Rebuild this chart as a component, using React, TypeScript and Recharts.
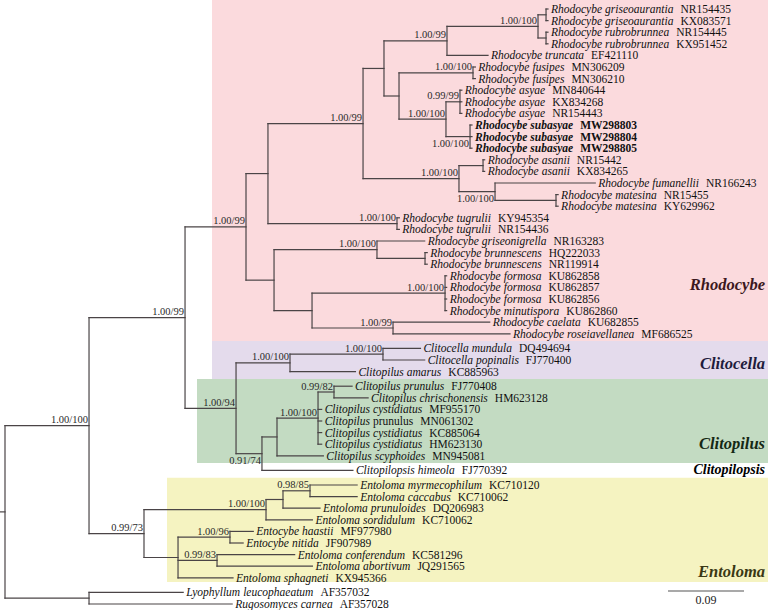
import { ComposedChart, XAxis, YAxis, ReferenceArea, ReferenceLine, Scatter } from "recharts";

// ---- data ----

const tipTaxa = [
  "Rhodocybe griseoaurantia", "Rhodocybe griseoaurantia", "Rhodocybe rubrobrunnea", "Rhodocybe rubrobrunnea",
  "Rhodocybe truncata", "Rhodocybe fusipes", "Rhodocybe fusipes", "Rhodocybe asyae", "Rhodocybe asyae", "Rhodocybe asyae",
  "Rhodocybe subasyae", "Rhodocybe subasyae", "Rhodocybe subasyae", "Rhodocybe asanii", "Rhodocybe asanii",
  "Rhodocybe fumanellii", "Rhodocybe matesina", "Rhodocybe matesina", "Rhodocybe tugrulii", "Rhodocybe tugrulii",
  "Rhodocybe griseonigrella", "Rhodocybe brunnescens", "Rhodocybe brunnescens", "Rhodocybe formosa", "Rhodocybe formosa",
  "Rhodocybe formosa", "Rhodocybe minutispora", "Rhodocybe caelata", "Rhodocybe roseiavellanea",
  "Clitocella mundula", "Clitocella popinalis", "Clitopilus amarus", "Clitopilus prunulus", "Clitopilus chrischonensis",
  "Clitopilus cystidiatus", "Clitopilus prunulus", "Clitopilus cystidiatus", "Clitopilus cystidiatus", "Clitopilus scyphoides",
  "Clitopilopsis himeola", "Entoloma myrmecophilum", "Entoloma caccabus", "Entoloma prunuloides", "Entoloma sordidulum",
  "Entocybe haastii", "Entocybe nitida", "Entoloma conferendum", "Entoloma abortivum", "Entoloma sphagneti",
  "Lyophyllum leucophaeatum", "Rugosomyces carnea",
];

const tipAccessions = [
  "NR154435", "KX083571", "NR154445", "KX951452", "EF421110", "MN306209", "MN306210", "MN840644", "KX834268", "NR154443",
  "MW298803", "MW298804", "MW298805", "NR15442", "KX834265", "NR166243", "NR15455", "KY629962", "KY945354", "NR154436",
  "NR163283", "HQ222033", "NR119914", "KU862858", "KU862857", "KU862856", "KU862860", "KU682855", "MF686525",
  "DQ494694", "FJ770400", "KC885963", "FJ770408", "HM623128", "MF955170", "MN061302", "KC885064", "HM623130", "MN945081",
  "FJ770392", "KC710120", "KC710062", "DQ206983", "KC710062", "MF977980", "JF907989", "KC581296", "JQ291565", "KX945366",
  "AF357032", "AF357028",
];

// root-to-tip distance, substitutions per site
const tipDepths = [
  0.643, 0.643, 0.643, 0.643, 0.572, 0.557, 0.557, 0.541, 0.541, 0.541,
  0.553, 0.553, 0.553, 0.568, 0.568, 0.699, 0.655, 0.655, 0.467, 0.467,
  0.497, 0.5, 0.5, 0.523, 0.523, 0.523, 0.523, 0.574, 0.598,
  0.492, 0.497, 0.415, 0.411, 0.43, 0.375, 0.375, 0.375, 0.375, 0.377,
  0.412, 0.417, 0.417, 0.373, 0.364, 0.294, 0.282, 0.343, 0.364, 0.27,
  0.211, 0.269,
];

type Kid = string | number; // string = clade id, number = tip index
type Clade = { id: string; depth: number; kids: Kid[]; support: string };

// internal nodes: depth from root, children (top to bottom), posterior/bootstrap
const clades: Clade[] = [
  { id: "root", depth: 0, kids: ["A", "out"], support: "" },
  { id: "A", depth: 0.0995, kids: ["B", "ent"], support: "1.00/100" },
  { id: "B", depth: 0.2132, kids: ["rho", "clt"], support: "1.00/99" },
  { id: "rho", depth: 0.2854, kids: ["D", "P"], support: "1.00/99" },
  { id: "D", depth: 0.3114, kids: ["E", "tug"], support: "" },
  { id: "E", depth: 0.424, kids: ["H", "K"], support: "1.00/99" },
  { id: "H", depth: 0.4488, kids: ["F", "I"], support: "" },
  { id: "F", depth: 0.5234, kids: ["G", 4], support: "1.00/99" },
  { id: "G", depth: 0.6312, kids: ["gri", "rub"], support: "1.00/100" },
  { id: "gri", depth: 0.6407, kids: [0, 1], support: "" },
  { id: "rub", depth: 0.6407, kids: [2, 3], support: "" },
  { id: "I", depth: 0.4666, kids: ["fus", "V"], support: "" },
  { id: "fus", depth: 0.5542, kids: [5, 6], support: "1.00/100" },
  { id: "V", depth: 0.5222, kids: ["asy", "sub"], support: "1.00/100" },
  { id: "asy", depth: 0.5388, kids: [7, 8, 9], support: "0.99/99" },
  { id: "sub", depth: 0.5507, kids: [10, 11, 12], support: "1.00/100" },
  { id: "K", depth: 0.5376, kids: ["asa", "S"], support: "1.00/100" },
  { id: "asa", depth: 0.5661, kids: [13, 14], support: "" },
  { id: "S", depth: 0.5803, kids: [15, "mat"], support: "1.00/100" },
  { id: "mat", depth: 0.6525, kids: [16, 17], support: "" },
  { id: "tug", depth: 0.4642, kids: [18, 19], support: "1.00/100" },
  { id: "P", depth: 0.3186, kids: ["J", "M"], support: "" },
  { id: "J", depth: 0.4405, kids: [20, "bru"], support: "1.00/100" },
  { id: "bru", depth: 0.4974, kids: [21, 22], support: "" },
  { id: "M", depth: 0.3636, kids: ["for", "O"], support: "" },
  { id: "for", depth: 0.5211, kids: [23, 24, 25, 26], support: "1.00/100" },
  { id: "O", depth: 0.4595, kids: [27, 28], support: "1.00/99" },
  { id: "clt", depth: 0.2736, kids: ["Z", "AA"], support: "1.00/94" },
  { id: "Z", depth: 0.3375, kids: ["cel", 31], support: "1.00/100" },
  { id: "cel", depth: 0.4476, kids: [29, 30], support: "1.00/100" },
  { id: "AA", depth: 0.3043, kids: ["AC", 39], support: "0.91/74" },
  { id: "AC", depth: 0.3221, kids: ["AD", 38], support: "" },
  { id: "AD", depth: 0.3707, kids: ["AE", 34, 35, 36, 37], support: "1.00/100" },
  { id: "AE", depth: 0.3896, kids: [32, 33], support: "0.99/82" },
  { id: "ent", depth: 0.1646, kids: ["AG", "AH"], support: "0.99/73" },
  { id: "AG", depth: 0.3091, kids: ["AI", 43], support: "1.00/100" },
  { id: "AI", depth: 0.3292, kids: ["AJ", 42], support: "" },
  { id: "AJ", depth: 0.3612, kids: [40, 41], support: "0.98/85" },
  { id: "AH", depth: 0.2049, kids: ["AK", "AL", 48], support: "" },
  { id: "AK", depth: 0.2664, kids: [44, 45], support: "1.00/96" },
  { id: "AL", depth: 0.2511, kids: [46, 47], support: "0.99/83" },
  { id: "out", depth: 0.0995, kids: [49, 50], support: "" },
];

const groupNames = ["Rhodocybe", "Clitocella", "Clitopilus", "Clitopilopsis", "Entoloma"];
const groupFirstTip = [0, 29, 32, 39, 40];
const groupLastTip = [28, 31, 38, 39, 48];

const SCALE_LENGTH = 0.09;

// ---- layout ----

const W = 768;
const H = 610;
const SERIF = "'Liberation Serif', 'Times New Roman', serif";
const UNIT_PER_PX = SCALE_LENGTH / 76;
const X_MIN = -5 * UNIT_PER_PX;
const X_MAX = (W - 5) * UNIT_PER_PX;

const TIP_Y0 = 9;
const TIP_STEP = 11.6;
const GAP_BEFORE = [29, 32, 39, 40, 49];
const GAP_EXTRA = 3;

const NEW_SPECIES = "Rhodocybe subasyae";
const UPRIGHT_EPITHET = new Set([35]);
const SUPPORT_BELOW = new Set(["sub", "S", "AA"]);

const BRANCH = "#4a4446";

const groupStyle: Record<string, { fill?: string; left: number; color: string; size: number; anchor: number; dy: number }> = {
  Rhodocybe: { fill: "#fbdadd", left: 212, color: "#3b1820", size: 16.5, anchor: 24, dy: -3 },
  Clitocella: { fill: "#e4dbec", left: 212, color: "#1e1c3c", size: 16.5, anchor: 30, dy: 3 },
  Clitopilus: { fill: "#c3dbc2", left: 197, color: "#142814", size: 16.5, anchor: 37, dy: -1 },
  Clitopilopsis: { left: 0, color: "#000", size: 14, anchor: 39, dy: -1 },
  Entoloma: { fill: "#f5f3c1", left: 167, color: "#3a3814", size: 16.5, anchor: 48, dy: -7 },
};

const tipY = (i: number) => TIP_Y0 + TIP_STEP * i + GAP_EXTRA * GAP_BEFORE.filter((g) => g <= i).length;
const cladeById = new Map(clades.map((c) => [c.id, c]));
const yOf = (k: Kid): number => {
  if (typeof k === "number") return tipY(k);
  const c = cladeById.get(k)!;
  return (yOf(c.kids[0]) + yOf(c.kids[c.kids.length - 1])) / 2;
};
const depthOf = (k: Kid) => (typeof k === "number" ? tipDepths[k] : cladeById.get(k)!.depth);

type Seg = [{ x: number; y: number }, { x: number; y: number }];
const segments: Seg[] = [];
clades.forEach((c) => {
  const ys = c.kids.map(yOf);
  segments.push([{ x: c.depth, y: ys[0] }, { x: c.depth, y: ys[ys.length - 1] }]);
  c.kids.forEach((k, j) => segments.push([{ x: c.depth, y: ys[j] }, { x: depthOf(k), y: ys[j] }]));
});
segments.push([{ x: X_MIN, y: yOf("root") }, { x: 0, y: yOf("root") }]);

const tipPoints = tipTaxa.map((name, i) => ({
  x: tipDepths[i],
  y: tipY(i),
  name,
  acc: tipAccessions[i],
  upright: UPRIGHT_EPITHET.has(i),
}));

const supportPoints = clades
  .filter((c) => c.support)
  .map((c) => ({ x: c.depth, y: yOf(c.id), support: c.support, below: SUPPORT_BELOW.has(c.id) }));

const boxes = groupNames
  .map((name, g) => {
    const s = groupStyle[name];
    const top = groupFirstTip[g] === 0 ? 0 : (tipY(groupFirstTip[g] - 1) + tipY(groupFirstTip[g])) / 2;
    const last = groupLastTip[g];
    const bottom = last === 48 ? (tipY(48) + tipY(49)) / 2 - 3 : (tipY(last) + tipY(last + 1)) / 2;
    return { name, fill: s.fill, x1: (s.left - 5) * UNIT_PER_PX, y1: top, y2: bottom };
  })
  .filter((b) => b.fill);

const groupPoints = groupNames.map((name) => {
  const s = groupStyle[name];
  return { x: 760 * UNIT_PER_PX, y: tipY(s.anchor) + s.dy, name, color: s.color, size: s.size };
});

const SCALE_X0 = 663 * UNIT_PER_PX;
const SCALE_Y = 591;
const scalePoints = [{ x: SCALE_X0 + SCALE_LENGTH / 2, y: SCALE_Y, label: String(SCALE_LENGTH) }];

const TipLabel = (p: any) => {
  const { cx, cy, payload } = p;
  const bold = payload.name === NEW_SPECIES;
  const [genus, ...rest] = payload.name.split(" ");
  return (
    <text x={cx + 3} y={cy} dy="0.35em" fontFamily={SERIF} fontSize={11.5} fill="#111" fontWeight={bold ? 700 : 400}>
      <tspan fontStyle="italic">{genus}</tspan>
      <tspan dx={3} fontStyle={payload.upright ? "normal" : "italic"}>
        {rest.join(" ")}
      </tspan>
      <tspan dx={7}>{payload.acc}</tspan>
    </text>
  );
};

const SupportLabel = (p: any) => {
  const { cx, cy, payload } = p;
  return (
    <text x={cx - 1} y={payload.below ? cy + 10 : cy - 2.5} textAnchor="end" fontFamily={SERIF} fontSize={10.5} fill="#2a2a2a">
      {payload.support}
    </text>
  );
};

const GroupLabel = (p: any) => {
  const { cx, cy, payload } = p;
  return (
    <text x={cx} y={cy} dy="0.35em" textAnchor="end" fontFamily={SERIF} fontSize={payload.size} fontWeight={700} fontStyle="italic" fill={payload.color}>
      {payload.name}
    </text>
  );
};

const ScaleLabel = (p: any) => (
  <text x={p.cx} y={p.cy + 13} textAnchor="middle" fontFamily={SERIF} fontSize={12} fill="#222">
    {p.payload.label}
  </text>
);

export default function App() {
  return (
    <div style={{ position: "absolute", left: 0, top: 0, background: "#fff" }}>
      <ComposedChart width={W} height={H} margin={{ top: 0, right: 0, bottom: 0, left: 0 }}>
        <XAxis type="number" dataKey="x" domain={[X_MIN, X_MAX]} allowDataOverflow hide />
        <YAxis type="number" dataKey="y" domain={[0, H]} allowDataOverflow reversed hide />
        {boxes.map((b) => (
          <ReferenceArea key={b.name} x1={b.x1} x2={X_MAX} y1={b.y1} y2={b.y2} fill={b.fill} fillOpacity={1} stroke="none" ifOverflow="visible" />
        ))}
        {segments.map((s, i) => (
          <ReferenceLine key={i} segment={s} stroke={BRANCH} strokeWidth={1.2} strokeLinecap="square" ifOverflow="visible" />
        ))}
        <ReferenceLine
          segment={[{ x: SCALE_X0, y: SCALE_Y }, { x: SCALE_X0 + SCALE_LENGTH, y: SCALE_Y }]}
          stroke="#555"
          strokeWidth={1.2}
          ifOverflow="visible"
        />
        <Scatter data={tipPoints} shape={TipLabel} isAnimationActive={false} />
        <Scatter data={supportPoints} shape={SupportLabel} isAnimationActive={false} />
        <Scatter data={groupPoints} shape={GroupLabel} isAnimationActive={false} />
        <Scatter data={scalePoints} shape={ScaleLabel} isAnimationActive={false} />
      </ComposedChart>
    </div>
  );
}
